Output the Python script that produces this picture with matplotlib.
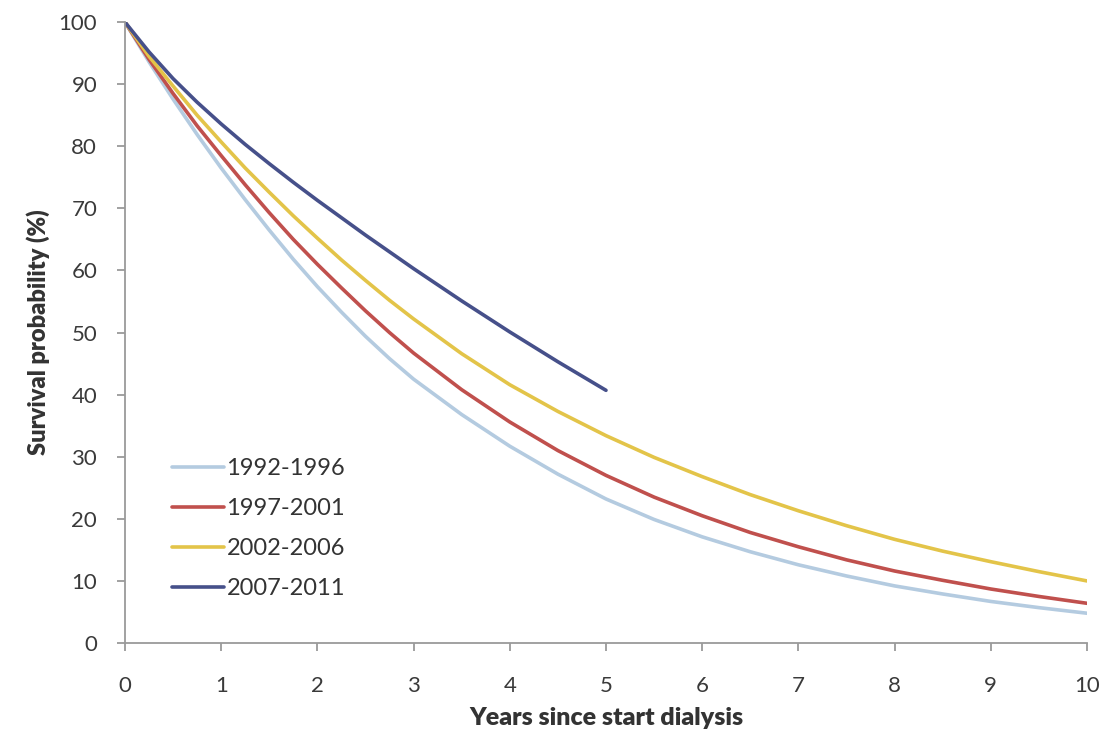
import numpy as np
import matplotlib.pyplot as plt

plt.rcParams['font.family'] = ['Lato', 'DejaVu Sans']

# survival curves
years = [0, 0.25, 0.5, 0.75, 1, 1.25, 1.5, 1.75, 2, 2.25, 2.5, 2.75, 3,
         3.5, 4, 4.5, 5, 5.5, 6, 6.5, 7, 7.5, 8, 8.5, 9, 9.5, 10]
surv_1992 = [100, 93.6, 87.6, 81.9, 76.5, 71.4, 66.5, 61.8, 57.4, 53.3, 49.4, 45.8, 42.5,
             36.8, 31.7, 27.2, 23.2, 19.9, 17.1, 14.7, 12.6, 10.8, 9.2, 7.9, 6.7, 5.7, 4.8]
surv_1997 = [100, 94, 88.5, 83.3, 78.5, 73.8, 69.3, 65, 61, 57.2, 53.5, 50, 46.7,
             40.8, 35.6, 31, 27, 23.5, 20.5, 17.8, 15.5, 13.4, 11.6, 10.1, 8.7, 7.5, 6.4]
surv_2002 = [100, 94.5, 89.7, 85, 80.7, 76.5, 72.6, 68.8, 65.2, 61.7, 58.4, 55.2, 52.2,
             46.6, 41.6, 37.3, 33.4, 29.9, 26.8, 23.9, 21.3, 18.9, 16.7, 14.8, 13.1, 11.5, 10]
years_2007 = [0, 0.25, 0.5, 0.75, 1, 1.25, 1.5, 1.75, 2, 2.25, 2.5, 2.75, 3,
              3.25, 3.5, 3.75, 4, 4.25, 4.5, 4.75, 5]
surv_2007 = [100, 95.2, 90.9, 87.1, 83.6, 80.3, 77.2, 74.2, 71.3, 68.5, 65.7, 63, 60.3,
             57.7, 55.1, 52.6, 50.1, 47.7, 45.3, 43, 40.7]

labels = ['1992-1996', '1997-2001', '2002-2006', '2007-2011']
colors = ['#b4cbe0', '#c0504d', '#e3c449', '#46508a']

fig = plt.figure(figsize=(11.02, 7.37), dpi=100)
ax = fig.add_axes([0.1134, 0.1275, 0.873, 0.8425])

kw = dict(lw=2.6, solid_joinstyle='round', solid_capstyle='round')
ax.plot(years, surv_1992, color=colors[0], label=labels[0], **kw)
ax.plot(years, surv_1997, color=colors[1], label=labels[1], **kw)
ax.plot(years, surv_2002, color=colors[2], label=labels[2], **kw)
ax.plot(years_2007, surv_2007, color=colors[3], label=labels[3], **kw)

ax.set_xlim(0, 10)
ax.set_ylim(0, 100)
ax.set_xticks(range(0, 11))
ax.set_yticks(range(0, 101, 10))

for s in ['top', 'right']:
    ax.spines[s].set_visible(False)
for s in ['left', 'bottom']:
    ax.spines[s].set_color('#9a9a9a')
    ax.spines[s].set_linewidth(1.3)
ax.tick_params(colors='#9a9a9a', width=1.3, length=6, labelsize=16,
               labelcolor='#3a3a3a')
ax.tick_params(axis='x', pad=18)
ax.tick_params(axis='y', pad=14)

ax.set_xlabel('Years since start dialysis', fontsize=18, fontweight='heavy',
              color='#333333', labelpad=8)
ax.set_ylabel('Survival probability (%)', fontsize=17, fontweight='heavy',
              color='#333333', labelpad=6)

leg = ax.legend(loc='lower left', bbox_to_anchor=(0.027, 0.037), frameon=False,
                fontsize=17, handlelength=2.2, handletextpad=0.1,
                labelspacing=0.8)
for t in leg.get_texts():
    t.set_color('#333333')

fig.savefig('out.png', dpi=100)
